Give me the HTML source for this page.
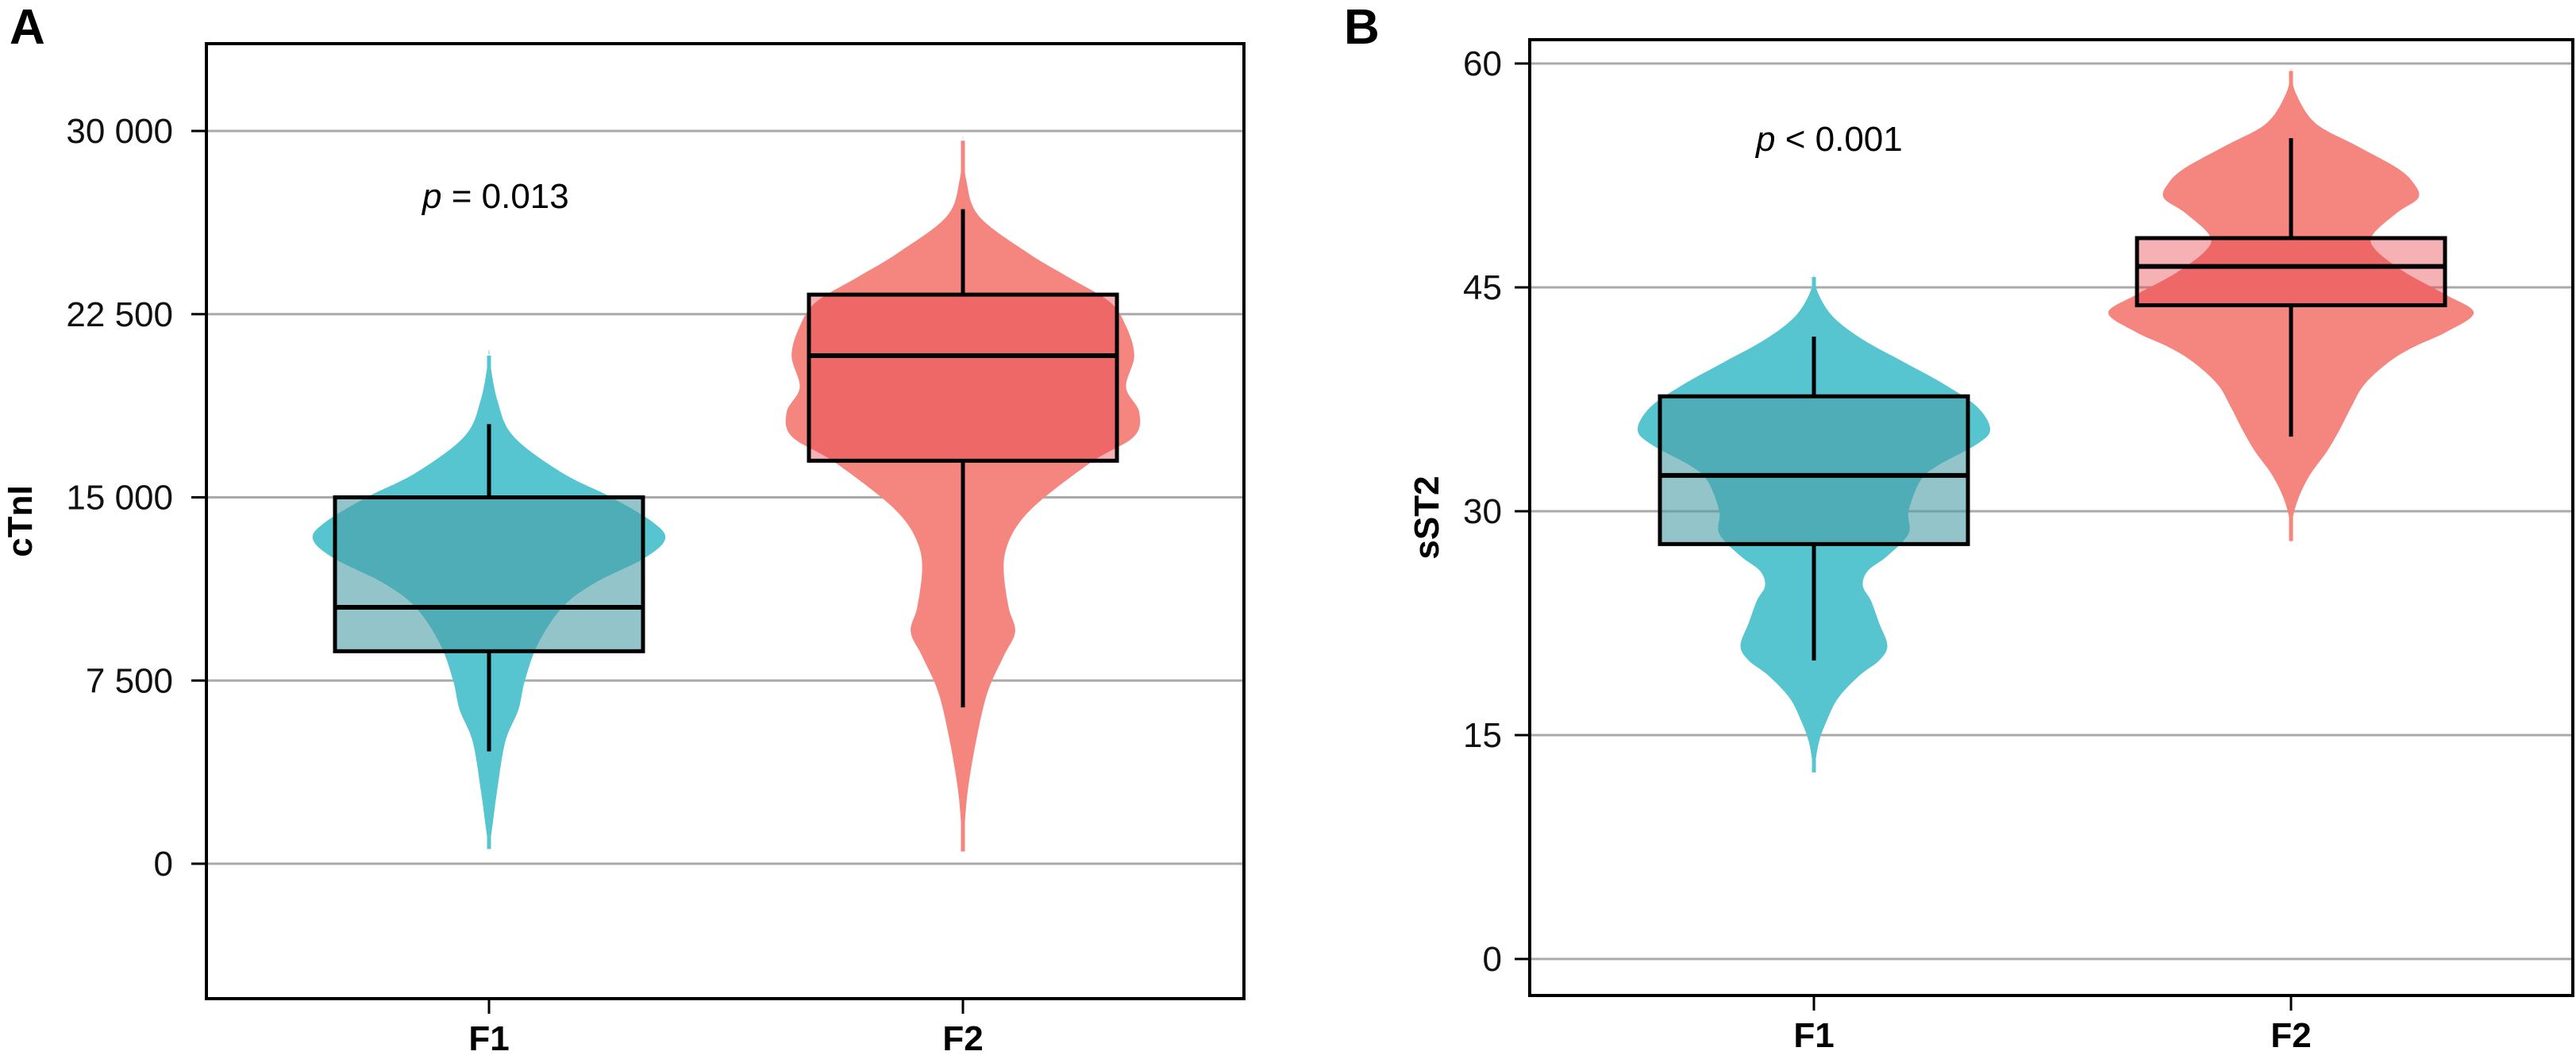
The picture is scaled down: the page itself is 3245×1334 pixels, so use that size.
<!DOCTYPE html>
<html><head><meta charset="utf-8"><style>
html,body{margin:0;padding:0;background:#fff}
svg{display:block;font-family:"Liberation Sans",sans-serif}
</style></head><body>
<svg id="c" width="3245" height="1334" viewBox="0 0 3245 1334"></svg>
<script>
// ---- data ----
const categories = ["F1","F2"];
const aTicks = [0,7500,15000,22500,30000];
const aTickLabels = ["0","7 500","15 000","22 500","30 000"];
const bTicks = [0,15,30,45,60];
const bTickLabels = ["0","15","30","45","60"];
// box stats [whiskerLow, q1, median, q3, whiskerHigh]
const aBoxF1 = [4600, 8700, 10500, 15000, 18000];
const aBoxF2 = [6400, 16500, 20800, 23300, 26800];
const bBoxF1 = [20, 27.8, 32.4, 37.7, 41.7];
const bBoxF2 = [35, 43.8, 46.4, 48.3, 55];
// violin profiles: values and relative densities
const aVioF1Vals = [600,1500,3000,5000,6300,7500,9000,10500,11500,12500,13300,14000,15000,16000,17500,19000,20800];
const aVioF1Dens = [0,2,5,10,18,22,30,45,65,95,108,100,75,45,15,5,0];
const aVioF2Vals = [500,1500,3000,5000,7000,8500,9500,10500,12000,13000,14000,15000,16500,17500,18500,19500,20800,22000,23000,24000,25000,26500,28000,29600];
const aVioF2Dens = [0,1,3,8,15,25,32,28,25,27,35,50,80,105,108,100,105,100,90,65,40,10,2,0];
const bVioF1Vals = [12.5,14.5,16,17.5,19,20,21,22.5,24,25,26,27,28.5,30,32,33,34.5,35.5,37,38.5,40,41.5,43,44.5,45.7];
const bVioF1Dens = [0,3,8,15,28,40,45,40,35,30,33,45,58,58,65,75,100,108,100,80,55,30,12,3,0];
const bVioF2Vals = [28,29.5,31,32.5,34,35.5,37,38.5,40,41,42,43.3,44.5,46,47.5,48.5,50,51,52,53,54.5,56,58,59.5];
const bVioF2Dens = [0,1,5,12,22,30,37,45,60,75,95,112,95,70,52,50,65,78,75,65,40,15,3,0];

const svg = document.getElementById('c');
const NS = 'http://www.w3.org/2000/svg';
function mk(tag, attrs, parent){const e=document.createElementNS(NS,tag);for(const k in attrs)e.setAttribute(k,attrs[k]);(parent||svg).appendChild(e);return e;}

function panel(cfg){
  const g = mk('g',{});
  
  
  const y = v => cfg.y0 + (v - cfg.v0)*(cfg.y1-cfg.y0)/(cfg.v1-cfg.v0);
  const x = i => cfg.xs[i];
  cfg.ticks.forEach((t,i)=>{
    const gl = mk('line',{x1:cfg.L,x2:cfg.R,y1:y(t),y2:y(t),stroke:'#aaaaaa','stroke-width':3},g);
    
    
    mk('line',{x1:cfg.L-19,x2:cfg.L,y1:y(t),y2:y(t),stroke:'#000','stroke-width':3},g);
    const tx = mk('text',{x:cfg.L-cfg.labOff,y:y(t)+15,'text-anchor':'end','font-size':44,fill:'#111'},g);
    tx.textContent = cfg.labels[i];
    
    
  });
  const colors = ['#56c5cf','#f4867f'];
  const boxFill = ['rgba(73,157,165,0.6)','rgba(232,60,70,0.4)'];
  [0,1].forEach(i=>{
    const vals = cfg.vio[i][0], dens = cfg.vio[i][1];
    const sc = cfg.halfW/108;
    let pts=[];
    for(let k=0;k<vals.length;k++) pts.push([x(i)+dens[k]*sc, y(vals[k])]);
    for(let k=vals.length-1;k>=0;k--) pts.push([x(i)-dens[k]*sc, y(vals[k])]);
    let d='M'+pts[0][0]+','+pts[0][1];
    for(let k=0;k<pts.length-1;k++){
      const p0=pts[Math.max(k-1,0)],p1=pts[k],p2=pts[k+1],p3=pts[Math.min(k+2,pts.length-1)];
      const c1=[p1[0]+(p2[0]-p0[0])/6,p1[1]+(p2[1]-p0[1])/6];
      const c2=[p2[0]-(p3[0]-p1[0])/6,p2[1]-(p3[1]-p1[1])/6];
      d+=' C'+c1[0]+','+c1[1]+' '+c2[0]+','+c2[1]+' '+p2[0]+','+p2[1];
    }
    const v = mk('path',{d:d+'Z',fill:colors[i]},g);
    
    
    mk('line',{x1:x(i),x2:x(i),y1:y(vals[0]),y2:y(vals[vals.length-1]),stroke:colors[i],'stroke-width':5},g);
  });
  [0,1].forEach(i=>{
    const b = cfg.box[i];
    const bw = cfg.boxW;
    mk('line',{x1:x(i),x2:x(i),y1:y(b[0]),y2:y(b[1]),stroke:'#000','stroke-width':5},g);
    mk('line',{x1:x(i),x2:x(i),y1:y(b[3]),y2:y(b[4]),stroke:'#000','stroke-width':5},g);
    const r = mk('rect',{x:x(i)-bw/2,y:y(b[3]),width:bw,height:y(b[1])-y(b[3]),fill:boxFill[i],stroke:'#000','stroke-width':5},g);
    
    
    mk('line',{x1:x(i)-bw/2,x2:x(i)+bw/2,y1:y(b[2]),y2:y(b[2]),stroke:'#000','stroke-width':6},g);
  });
  const f = mk('rect',{x:cfg.L,y:cfg.T,width:cfg.R-cfg.L,height:cfg.B-cfg.T,fill:'none',stroke:'#000','stroke-width':4},g);
  
  
  categories.forEach((c,i)=>{
    mk('line',{x1:x(i),x2:x(i),y1:cfg.B,y2:cfg.B+19,stroke:'#000','stroke-width':3},g);
    const t = mk('text',{x:x(i),y:cfg.B+65,'text-anchor':'middle','font-size':44,'font-weight':'bold'},g);
    t.textContent = c;
    
    
  });
  const yt = mk('text',{x:0,y:0,'text-anchor':'middle','font-size':44,'font-weight':'bold',transform:`translate(${cfg.yTitleX},${(cfg.T+cfg.B)/2}) rotate(-90)`},g);
  yt.textContent = cfg.yTitle;
  
  
  const p = mk('text',{x:cfg.pX,y:cfg.pY,'font-size':44},g);
  p.innerHTML = '<tspan font-style="italic">p</tspan>'+cfg.pText;
  
  
  const l = mk('text',{x:cfg.letterX,y:55,'font-size':62,'font-weight':'bold'},g);
  l.textContent = cfg.letter;
  
  
}

panel({name:'panel-a-ctni',L:260,R:1567,T:55,B:1258,y0:1088,y1:165,v0:0,v1:30000,
  xs:[616,1213],ticks:aTicks,labels:aTickLabels,labOff:42,halfW:222,boxW:388,
  box:[aBoxF1,aBoxF2],vio:[[aVioF1Vals,aVioF1Dens],[aVioF2Vals,aVioF2Dens]],
  yTitle:'cTnI',yTitleX:40,pX:532,pY:262,pText:' = 0.013',letter:'A',letterX:12});
panel({name:'panel-b-sst2',L:1927,R:3241,T:50,B:1254,y0:1208,y1:80,v0:0,v1:60,
  xs:[2285,2886],ticks:bTicks,labels:bTickLabels,labOff:35,halfW:222,boxW:388,
  box:[bBoxF1,bBoxF2],vio:[[bVioF1Vals,bVioF1Dens],[bVioF2Vals,bVioF2Dens]],
  yTitle:'sST2',yTitleX:1812,pX:2212,pY:190,pText:' < 0.001',letter:'B',letterX:1693});
</script>
</body></html>
